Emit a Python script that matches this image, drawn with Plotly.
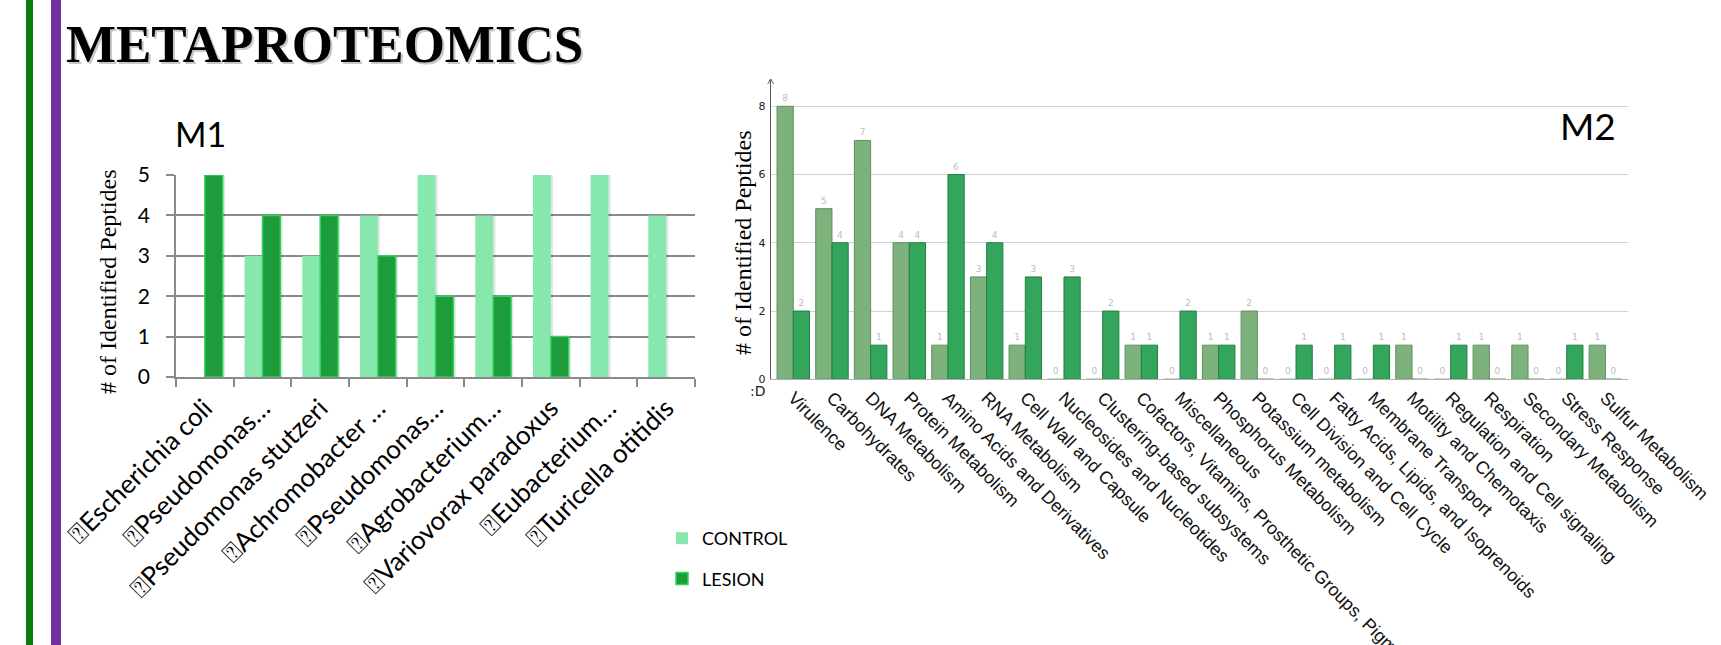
import plotly.graph_objects as go

W, H = 1721, 645

# ---------------- data ----------------
m1_labels = ["⍰Escherichia coli", "⍰Pseudomonas…", "⍰Pseudomonas stutzeri",
             "⍰Achromobacter …", "⍰Pseudomonas…", "⍰Agrobacterium…",
             "⍰Variovorax paradoxus", "⍰Eubacterium…", "⍰Turicella otitidis"]
m1_control = [0, 3, 3, 4, 5, 4, 5, 5, 4]
m1_lesion = [5, 4, 4, 3, 2, 2, 1, 0, 0]

m2_labels = ["Virulence", "Carbohydrates", "DNA Metabolism", "Protein Metabolism",
             "Amino Acids and Derivatives", "RNA Metabolism", "Cell Wall and Capsule",
             "Nucleosides and Nucleotides", "Clustering-based subsystems",
             "Cofactors, Vitamins, Prosthetic Groups, Pigments", "Miscellaneous",
             "Phosphorus Metabolism", "Potassium metabolism", "Cell Division and Cell Cycle",
             "Fatty Acids, Lipids, and Isoprenoids", "Membrane Transport",
             "Motility and Chemotaxis", "Regulation and Cell signaling", "Respiration",
             "Secondary Metabolism", "Stress Response", "Sulfur Metabolism"]
m2_control = [8, 5, 7, 4, 1, 3, 1, 0, 0, 1, 0, 1, 2, 0, 0, 0, 1, 0, 1, 1, 0, 1]
m2_lesion = [2, 4, 1, 4, 6, 4, 3, 3, 2, 1, 2, 1, 0, 1, 1, 1, 0, 1, 0, 0, 1, 0]

m1_ticks = [0, 1, 2, 3, 4, 5]
m2_ticks = [0, 2, 4, 6, 8]


def uniq(labels):
    seen = {}
    out = []
    for l in labels:
        n = seen.get(l, 0)
        out.append(l + "\u200b" * n)
        seen[l] = n + 1
    return out


m1_cats = uniq(m1_labels)


def px(x):
    return x / W


def py(y):
    return 1 - y / H


fig = go.Figure()

# M1 soft bar shadows (same data, drawn slightly offset)
for vals, off in ((m1_control, -0.31), (m1_lesion, 0.0)):
    fig.add_trace(go.Bar(x=m1_cats, y=vals, xaxis="x", yaxis="y", showlegend=False,
                         offset=off + 0.04, width=0.31, hoverinfo="skip",
                         marker=dict(color="rgba(0,0,0,0.10)", line=dict(width=0))))

# M1 bars
fig.add_trace(go.Bar(x=m1_cats, y=m1_control, name="CONTROL", xaxis="x", yaxis="y",
                     offset=-0.31, width=0.31, legendgroup="c",
                     marker=dict(color="#86e8ac", line=dict(width=0))))
fig.add_trace(go.Bar(x=m1_cats, y=m1_lesion, name="LESION", xaxis="x", yaxis="y",
                     offset=0.0, width=0.31, legendgroup="l",
                     marker=dict(color="#1e9b3b",
                                 line=dict(width=[1.5 if v > 0 else 0 for v in m1_lesion],
                                           color="#2fd35e"))))

# M2 bars
fig.add_trace(go.Bar(x=m2_labels, y=m2_control, xaxis="x2", yaxis="y2", showlegend=False,
                     offset=-0.42, width=0.42, text=m2_control, textposition="outside",
                     textfont=dict(size=9, color="#bdbdbd", family="DejaVu Sans"),
                     cliponaxis=False,
                     marker=dict(color="#7db27c", line=dict(width=1, color="#5f8f5f"))))
fig.add_trace(go.Bar(x=m2_labels, y=m2_lesion, xaxis="x2", yaxis="y2", showlegend=False,
                     offset=0.0, width=0.42, text=m2_lesion, textposition="outside",
                     textfont=dict(size=9, color="#bdbdbd", family="DejaVu Sans"),
                     cliponaxis=False,
                     marker=dict(color="#33a65c", line=dict(width=1, color="#1f7f40"))))

fig.update_layout(
    width=W, height=H,
    margin=dict(l=0, r=0, t=0, b=0, autoexpand=False),
    paper_bgcolor="white", plot_bgcolor="white",
    barmode="overlay",
    xaxis=dict(domain=[px(176), px(695)], type="category", range=[-0.5, 8.5],
               automargin=False,
               tickson="boundaries", ticks="outside", ticklen=8, tickcolor="#8a8a8a",
               tickwidth=1.5, showline=True, linecolor="#8a8a8a", linewidth=1.5,
               showgrid=False, tickangle=-45, ticklabelstandoff=4,
               tickfont=dict(family="Lato", size=26, color="black"), anchor="y"),
    yaxis=dict(domain=[py(377), py(175)], range=[0, 5], tickvals=m1_ticks,
               automargin=False,
               showgrid=True, gridcolor="#8a8a8a", gridwidth=1.5,
               ticks="outside", ticklen=8, tickcolor="#8a8a8a", tickwidth=1.5,
               showline=True, linecolor="#8a8a8a", linewidth=1.5, zeroline=False,
               ticklabelstandoff=12,
               tickfont=dict(family="Lato", size=21, color="black"), anchor="x"),
    xaxis2=dict(domain=[px(770.7), px(1628)], type="category", range=[-0.584, 21.585],
                automargin=False,
                ticks="", showline=True, linecolor="#b0b0b0", linewidth=1,
                showgrid=False, tickangle=45,
                tickfont=dict(family="Liberation Sans", size=18, color="#111"), anchor="y2"),
    yaxis2=dict(domain=[py(379.3), py(79)], range=[0, 8.8], tickvals=m2_ticks,
                automargin=False,
                showgrid=True, gridcolor="#d2d2d2", gridwidth=1, zeroline=False,
                showline=True, linecolor="#555555", linewidth=1, ticks="",
                ticklabelstandoff=2,
                tickfont=dict(family="DejaVu Sans", size=11, color="#222"),
                tickprefix="<b>", ticksuffix="</b>", anchor="x2"),
    legend=dict(x=px(662), y=py(520), xanchor="left", yanchor="top",
                font=dict(family="Lato", size=18, color="black"),
                tracegroupgap=14, bgcolor="rgba(0,0,0,0)", borderwidth=0,
                traceorder="grouped"),
    showlegend=True,
)

annotations = [
    # title shadow + title
    dict(text="<b>METAPROTEOMICS</b>", x=px(66), y=py(46), xanchor="left", yanchor="middle",
         font=dict(family="Liberation Serif", size=53, color="#c8c8c8")),
    dict(text="<b>METAPROTEOMICS</b>", x=px(64), y=py(44), xanchor="left", yanchor="middle",
         font=dict(family="Liberation Serif", size=53, color="black")),
    dict(text="M1", x=px(200), y=py(134), xanchor="center", yanchor="middle",
         font=dict(family="Lato", size=34, color="black")),
    dict(text="M2", x=px(1588), y=py(126), xanchor="center", yanchor="middle",
         font=dict(family="Lato", size=37, color="black")),
    dict(text="# of Identified Peptides", x=px(108), y=py(282), textangle=-90,
         xanchor="center", yanchor="middle",
         font=dict(family="Liberation Serif", size=24, color="black")),
    dict(text="# of Identified Peptides", x=px(743), y=py(243), textangle=-90,
         xanchor="center", yanchor="middle",
         font=dict(family="Liberation Serif", size=24, color="black")),
    dict(text=":D", x=px(758), y=py(391), xanchor="center", yanchor="middle",
         font=dict(family="DejaVu Sans", size=14, color="#222")),
]
for a in annotations:
    a.update(xref="paper", yref="paper", showarrow=False)
fig.update_layout(annotations=annotations)

shapes = [
    dict(type="rect", x0=px(26), x1=px(33), y0=0, y1=1, fillcolor="#0a7d0a", line=dict(width=0)),
    dict(type="rect", x0=px(51), x1=px(61), y0=0, y1=1, fillcolor="#7030a0", line=dict(width=0)),
    dict(type="path",
         path=f"M {px(767.7)},{py(84)} L {px(770.7)},{py(79)} L {px(773.7)},{py(84)}",
         line=dict(color="#555555", width=1)),
]
for s in shapes:
    s.update(xref="paper", yref="paper")
fig.update_layout(shapes=shapes)

fig.write_html("out.html")
